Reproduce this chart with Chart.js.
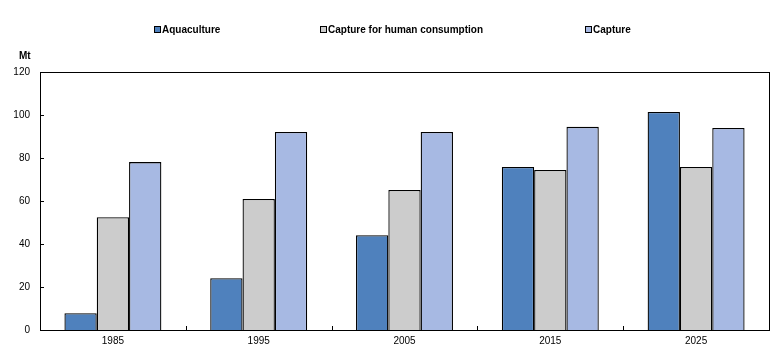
<!DOCTYPE html>
<html>
<head>
<meta charset="utf-8">
<script src="https://cdn.jsdelivr.net/npm/chart.js@4/dist/chart.umd.min.js"></script>
<style>
  html, body { margin: 0; padding: 0; background: #fff; }
  #wrap { position: relative; width: 775px; height: 360px; }
  canvas { position: absolute; left: 0; top: 0; }
  .leg { position: absolute; top: 23px; font: bold 10px "Liberation Sans", Arial, sans-serif; color: #000; white-space: nowrap; line-height: 13px; }
  .sw { display: inline-block; width: 5px; height: 5px; border: 1px solid #000; vertical-align: 0px; margin-right: 1px; }
  #unit { position: absolute; left: 19px; top: 49px; font: bold 10px "Liberation Sans", Arial, sans-serif; color: #000; line-height: 13px; }
</style>
</head>
<body>
<div id="wrap">
  <canvas id="c" width="775" height="360"></canvas>
  <div id="legend"></div>
  <div id="unit">Mt</div>
</div>
<script>
const categories = ["1985", "1995", "2005", "2015", "2025"];
const aquaculture = [7.8, 24.1, 44.1, 75.8, 101.4];
const captureHuman = [52.5, 60.9, 65.1, 74.4, 75.8];
const capture = [78.1, 92.1, 92.1, 94.5, 94.0];
const seriesNames = ["Aquaculture", "Capture for human consumption", "Capture"];
const seriesColors = ["#4F81BD", "#CCCCCC", "#A7B9E3"];
const legendX = [154, 320, 585];

const legendEl = document.getElementById('legend');
seriesNames.forEach((n, i) => {
  const d = document.createElement('div');
  d.className = 'leg';
  d.style.left = legendX[i] + 'px';
  d.innerHTML = '<span class="sw" style="background:' + seriesColors[i] + '"></span>' + n;
  legendEl.appendChild(d);
});

const frameAndTicks = {
  id: 'frameAndTicks',
  afterDraw(chart) {
    const { ctx, chartArea: a, scales } = chart;
    ctx.save();
    ctx.strokeStyle = '#000';
    ctx.lineWidth = 1;
    ctx.strokeRect(Math.round(a.left) + 0.5, Math.round(a.top) + 0.5, Math.round(a.right - a.left), Math.round(a.bottom - a.top));
    const y = scales.y;
    y.ticks.forEach(t => {
      const py = Math.round(y.getPixelForValue(t.value)) + 0.5;
      ctx.beginPath();
      ctx.moveTo(a.left, py);
      ctx.lineTo(a.left + 4, py);
      ctx.stroke();
    });
    const x = scales.x;
    const n = categories.length;
    for (let i = 1; i < n; i++) {
      const px = Math.round((x.getPixelForValue(i - 1) + x.getPixelForValue(i)) / 2) + 0.5;
      ctx.beginPath();
      ctx.moveTo(px, a.bottom);
      ctx.lineTo(px, a.bottom - 4);
      ctx.stroke();
    }
    ctx.restore();
  }
};

new Chart(document.getElementById('c'), {
  type: 'bar',
  data: {
    labels: categories,
    datasets: [
      { label: seriesNames[0], data: aquaculture, backgroundColor: seriesColors[0] },
      { label: seriesNames[1], data: captureHuman, backgroundColor: seriesColors[1] },
      { label: seriesNames[2], data: capture, backgroundColor: seriesColors[2] }
    ].map(d => Object.assign(d, { borderColor: '#000', borderWidth: 1.3, borderSkipped: 'bottom', barPercentage: 1, categoryPercentage: 0.665 }))
  },
  options: {
    responsive: false,
    animation: false,
    devicePixelRatio: 1,
    layout: { padding: { top: 72, right: 6, bottom: 0, left: 0 } },
    plugins: { legend: { display: false }, tooltip: { enabled: false } },
    scales: {
      x: {
        grid: { display: false, drawTicks: false },
        border: { display: true, color: '#000' },
        ticks: { color: '#000', font: { family: 'Liberation Sans, Arial', size: 10 }, padding: 5, maxRotation: 0 },
        afterFit(s) { s.height = 30; }
      },
      y: {
        min: 0, max: 120,
        grid: { display: false, drawTicks: false },
        border: { display: true, color: '#000' },
        ticks: { stepSize: 20, color: '#000', font: { family: 'Liberation Sans, Arial', size: 10 }, padding: 10 },
        afterFit(s) { s.width = 40; }
      }
    }
  },
  plugins: [frameAndTicks]
});
</script>
</body>
</html>
